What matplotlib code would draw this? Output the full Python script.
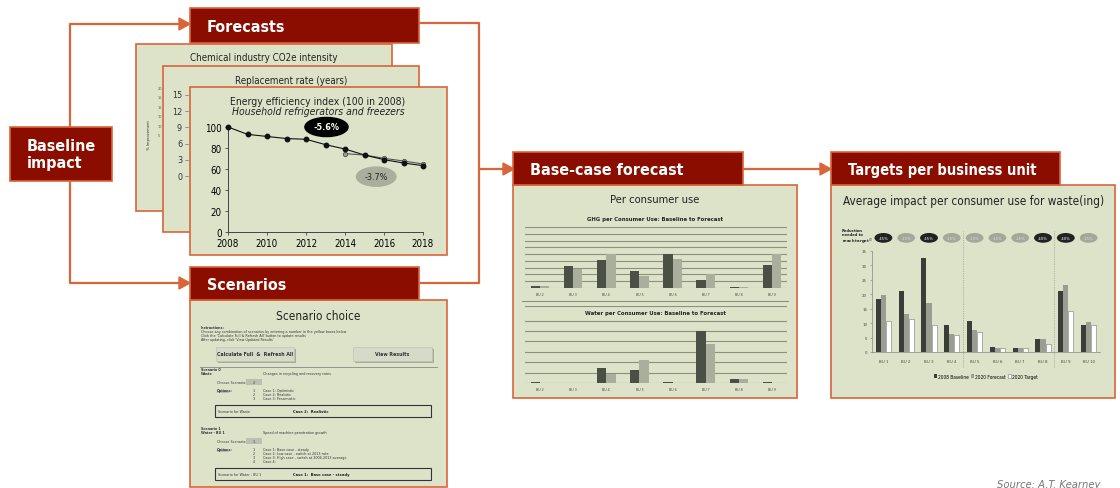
import matplotlib
matplotlib.use("Agg")
import matplotlib.pyplot as plt
from matplotlib.patches import Rectangle, Polygon
import numpy as np

plt.rcParams['font.family'] = ['DejaVu Sans']
plt.rcParams['font.stretch'] = 'condensed'

W, H = 1120, 489

# energy efficiency index (100 in 2008)
years = [2008, 2009, 2010, 2011, 2012, 2013, 2014, 2015, 2016, 2017, 2018]
eff_hist = [100, 93, 91, 89, 88.3, 83.2, 79, 73.3, 68.9, 65.7, 63.2]
years_alt = [2014, 2015, 2016, 2017, 2018]
eff_alt = [74.6, 73.3, 70.2, 67.6, 64.8]
repl_ticks = [15, 12, 9, 6, 3, 0]

# per consumer use (base case forecast)
bu_base = ["BU 2", "BU 3", "BU 4", "BU 5", "BU 6", "BU 7", "BU 8", "BU 9"]
ghg_baseline = [0.35, 3.2, 4.15, 2.5, 5.0, 1.15, 0.15, 3.35]
ghg_forecast = [0.25, 2.75, 5.0, 1.7, 4.35, 2.0, 0.1, 5.0]
water_baseline = [0.06, 0.0, 1.48, 1.23, 0.06, 4.97, 0.42, 0.06]
water_forecast = [0.03, 0.0, 0.87, 2.23, 0.03, 3.71, 0.42, 0.02]

# targets per business unit
bu_target = ["BU 1", "BU 2", "BU 3", "BU 4", "BU 5", "BU 6", "BU 7", "BU 8", "BU 9", "BU 10"]
t_baseline = [18.4, 21.0, 32.6, 9.4, 10.7, 1.6, 1.5, 4.4, 21.0, 9.3]
t_forecast = [19.7, 13.0, 17.1, 6.4, 7.7, 1.3, 1.3, 4.4, 23.3, 10.4]
t_target = [10.9, 11.6, 9.4, 5.9, 7.1, 1.3, 1.3, 2.6, 14.1, 9.4]
reduction = ["-45%", "-15%", "-45%", "-15%", "-15%", "-15%", "-15%", "-40%", "-40%", "-15%"]

RED = "#8b0d00"
ORANGE = "#d8663a"
PANEL = "#dce3c9"
DARK = "#4b5046"
LIGHT = "#a9ae9d"

fig = plt.figure(figsize=(W / 100, H / 100), dpi=100)
bg = fig.add_axes([0, 0, 1, 1])
bg.set_xlim(0, W)
bg.set_ylim(H, 0)
bg.axis("off")


def px_axes(x0, y0, x1, y1):
    ax = fig.add_axes([x0 / W, 1 - y1 / H, (x1 - x0) / W, (y1 - y0) / H])
    ax.patch.set_alpha(0)
    return ax


def box(x0, y0, x1, y1, fc, ec, lw=1.0, z=2):
    bg.add_patch(Rectangle((x0, y0), x1 - x0, y1 - y0, facecolor=fc, edgecolor=ec, lw=lw, zorder=z))


def header(x0, y0, x1, y1, label, size=11.5):
    box(x0, y0, x1, y1, RED, ORANGE, 1.2, 5)
    bg.text(x0 + 17, (y0 + y1) / 2 + 1, label, color="white", fontsize=size, fontweight="bold",
            va="center", ha="left", zorder=6)


def arrow(x_tip, y):
    bg.add_patch(Polygon([[x_tip, y], [x_tip - 11, y - 6], [x_tip - 11, y + 6]], closed=True,
                         color=ORANGE, zorder=4))


# connecting lines
lk = dict(color=ORANGE, lw=1.6, zorder=1, solid_capstyle="butt")
bg.plot([70, 70, 180], [128, 25, 25], **lk)
bg.plot([70, 70, 180], [182, 284, 284], **lk)
bg.plot([419, 479, 479, 419], [24, 24, 284, 284], **lk)
bg.plot([479, 503], [170, 170], **lk)
bg.plot([743, 820], [170, 170], **lk)
arrow(190, 25)
arrow(190, 284)
arrow(514, 170)
arrow(831, 170)

# baseline impact box
box(10, 128, 112, 182, RED, ORANGE, 1.2, 5)
bg.text(27, 155, "Baseline\nimpact", color="white", fontsize=11.5, fontweight="bold",
        va="center", ha="left", linespacing=1.1, zorder=6)

# forecast cards
box(136, 45, 392, 212, PANEL, ORANGE, 1.2, 2)
bg.text(264, 58, "Chemical industry CO2e intensity", fontsize=7, ha="center", va="center", color="#222", zorder=3)
bg.text(149, 135, "% Improvement", fontsize=3, rotation=90, ha="center", va="center", color="#333", zorder=3)
for i, t in enumerate(["20", "15", "15", "10", "10", "5"]):
    bg.text(158, 89 + i * 9.4, t, fontsize=2.8, ha="left", va="center", color="#555", zorder=3)

box(163, 67, 419, 233, PANEL, ORANGE, 1.2, 3)
bg.text(291, 81, "Replacement rate (years)", fontsize=7, ha="center", va="center", color="#222", zorder=4)
for i, t in enumerate(repl_ticks):
    yy = 96 + i * 16.2
    bg.text(182, yy, str(t), fontsize=6.5, ha="right", va="center", color="#333", zorder=4)
    bg.plot([185, 188], [yy, yy], color="#777", lw=0.5, zorder=4)

box(190, 88, 447, 256, PANEL, ORANGE, 1.2, 4)
bg.text(318, 102, "Energy efficiency index (100 in 2008)", fontsize=7.5, ha="center", va="center", color="#222", zorder=5)
bg.text(318, 112, "Household refrigerators and freezers", fontsize=7.5, style="italic", ha="center",
        va="center", color="#222", zorder=5)

ax = px_axes(228, 128, 423, 233)
ax.plot(years_alt, eff_alt, color="#555", lw=0.8, marker="o", ms=3.2, mfc="#9a9a9a", mec="#444", mew=0.5,
        clip_on=False, zorder=3)
ax.plot(years, eff_hist, color="#111", lw=0.8, marker="o", ms=3.2, mfc="#111", mec="#111",
        clip_on=False, zorder=4)
ax.set_xlim(2008, 2018)
ax.set_ylim(0, 100)
ax.set_xticks(range(2008, 2019, 2))
ax.set_yticks(range(0, 101, 20))
for s in ["top", "right"]:
    ax.spines[s].set_visible(False)
for s in ["left", "bottom"]:
    ax.spines[s].set_color("#444")
    ax.spines[s].set_linewidth(0.7)
ax.tick_params(labelsize=7, length=2.5, width=0.6, color="#444", pad=2)
ax.text(2013.05, 100, "-5.6%", fontsize=6.5, color="white", fontweight="bold", ha="center", va="center",
        bbox=dict(boxstyle="ellipse,pad=0.25", fc="black", ec="black"), zorder=6)
ax.text(2015.6, 52.7, "-3.7%", fontsize=6.5, color="#222", ha="center", va="center",
        bbox=dict(boxstyle="ellipse,pad=0.25", fc=LIGHT, ec=LIGHT), zorder=6)

header(190, 9, 419, 44, "Forecasts")

# base-case forecast panel
box(513, 186, 797, 399, PANEL, ORANGE, 1.2, 2)
bg.text(655, 200, "Per consumer use", fontsize=8, ha="center", va="center", color="#222", zorder=3)
bg.text(655, 220, "GHG per Consumer Use: Baseline to Forecast", fontsize=4.2, fontweight="bold",
        ha="center", va="center", color="#222", zorder=3)
bg.plot([522, 788], [302, 302], color="#8c9080", lw=0.8, zorder=3)


def base_chart(y0, y1, base, fc, top):
    a = px_axes(525, y0, 787, y1)
    x = np.arange(len(bu_base))
    a.bar(x - 0.14, base, 0.28, color=DARK, zorder=3)
    a.bar(x + 0.14, fc, 0.28, color=LIGHT, zorder=3)
    a.set_xlim(-0.45, len(bu_base) - 0.55)
    a.set_ylim(0, top)
    a.set_yticks(range(0, int(top) + 1))
    a.yaxis.grid(True, color="#8c9080", lw=0.8, zorder=0)
    a.set_axisbelow(True)
    a.set_xticks(x)
    a.set_xticklabels(bu_base)
    a.tick_params(axis="x", labelsize=2.6, length=0, pad=3, labelcolor="#444")
    a.tick_params(axis="y", left=False, labelleft=False)
    for s in a.spines.values():
        s.set_visible(False)
    return a


base_chart(228, 289, ghg_baseline, ghg_forecast, 9)
wa = base_chart(307, 384, water_baseline, water_forecast, 7.4)
wa.set_yticks([0, 1, 2, 3, 4, 5, 6, 7.4])
bg.text(655, 314, "Water per Consumer Use: Baseline to Forecast", fontsize=4.2, fontweight="bold",
        ha="center", va="center", color="#222", zorder=6,
        bbox=dict(boxstyle="square,pad=0.6", fc=PANEL, ec="none"))
header(513, 153, 743, 186, "Base-case forecast")

# targets per business unit panel
box(831, 186, 1115, 399, PANEL, ORANGE, 1.2, 2)
bg.text(974, 201, "Average impact per consumer use for waste(ing)", fontsize=8.5, ha="center", va="center",
        color="#222", zorder=3)
bg.text(842, 238, "Reduction\nneeded to\nreach target$^{(1)}$", fontsize=3, fontweight="bold",
        ha="left", va="center", color="#222", linespacing=1.0, zorder=3)

ta = px_axes(872, 252, 1100, 353)
x = np.arange(len(bu_target))
ta.bar(x - 0.22, t_baseline, 0.22, color="#3a3d38", label="2008 Baseline", zorder=3)
ta.bar(x, t_forecast, 0.22, color="#9a9e92", label="2020 Forecast", zorder=3)
ta.bar(x + 0.22, t_target, 0.22, color="white", ec="#777", lw=0.4, label="2020 Target", zorder=3)
ta.set_xlim(-0.5, len(bu_target) - 0.5)
ta.set_ylim(0, 35)
ta.set_yticks(range(0, 36, 5))
ta.set_xticks(x)
ta.set_xticklabels(bu_target)
ta.tick_params(labelsize=3.2, length=1.5, width=0.4, color="#777", labelcolor="#444", pad=2)
ta.tick_params(axis="x", length=0, pad=5)
for s in ["top", "right"]:
    ta.spines[s].set_visible(False)
for s in ["left", "bottom"]:
    ta.spines[s].set_color("#888")
    ta.spines[s].set_linewidth(0.5)
tr = ta.get_xaxis_transform()
for xs in [3.5, 7.5]:
    ta.plot([xs, xs], [-0.15, 1.2], transform=tr, color="#888", lw=0.5, ls=(0, (1, 1.5)), clip_on=False)
for i, r in enumerate(reduction):
    dark = r != "-15%"
    ta.text(i, 1.13, r, transform=tr, fontsize=3, ha="center", va="center",
            color="white" if dark else "#ddd",
            bbox=dict(boxstyle="ellipse,pad=0.35", fc="#222" if dark else "#a4a898", ec="none"))
ta.legend(loc="upper center", bbox_to_anchor=(0.5, -0.17), ncol=3, frameon=False, fontsize=3.5,
          handlelength=0.7, handleheight=0.7, columnspacing=0.4, handletextpad=0.2)
header(831, 153, 1060, 186, "Targets per business unit", size=10.5)

# scenarios panel
box(190, 301, 447, 488, PANEL, ORANGE, 1.2, 2)
bg.text(318, 317, "Scenario choice", fontsize=8.5, ha="center", va="center", color="#222", zorder=3)
tk = dict(fontsize=2.7, ha="left", va="center", color="#333", zorder=4)
bg.text(201, 328, "Instructions:", fontweight="bold", **tk)
bg.text(201, 332.5, "Choose any combination of scenarios by entering a number in the yellow boxes below", **tk)
bg.text(201, 336.5, "Click the 'Calculate Full & Refresh All' button to update results", **tk)
bg.text(201, 340.5, "After updating, click 'View Updated Results'", **tk)
for (bx0, bx1, lbl) in [(216, 294, "Calculate Full  &  Refresh All"), (353, 432, "View Results")]:
    box(bx0 + 1.5, 349.5, bx1 + 1.5, 363.5, "#a9ac9c", "none", 0, 3)
    box(bx0, 348, bx1, 362, "#d6dac9", "#c0c3b2", 0.5, 3)
    bg.text((bx0 + bx1) / 2, 355, lbl, fontsize=3.8, fontweight="bold", ha="center", va="center",
            color="#333", zorder=4)
bg.plot([200, 437], [368, 368], color="#888", lw=0.6, zorder=3)


def scenario(y, name, sub, desc, choice, cases, chosen, label):
    bg.text(201, y, name, fontweight="bold", **tk)
    bg.text(201, y + 4, sub, fontweight="bold", **tk)
    bg.text(263, y + 4, desc, **tk)
    bg.text(217, y + 13, "Choose Scenario:", **tk)
    box(246, y + 10, 262, y + 16, "#bcc0ae", "none", 0, 3)
    bg.text(254, y + 13, choice, fontsize=2.7, ha="center", va="center", color="#333", zorder=4)
    bg.text(217, y + 21, "Options:", fontweight="bold", **tk)
    bg.plot([217, 229], [y + 23, y + 23], color="#333", lw=0.3, zorder=4)
    for i, c in enumerate(cases):
        bg.text(254, y + 21 + i * 4, str(i + 1), fontsize=2.7, ha="center", va="center", color="#333", zorder=4)
        bg.text(263, y + 21 + i * 4, c, **tk)
    by = y + 21 + len(cases) * 4 + 3
    box(215, by, 431, by + 12, "none", "#333", 0.8, 4)
    bg.text(218, by + 6, label, **tk)
    bg.text(293, by + 6, chosen, fontsize=3, fontweight="bold", ha="left", va="center", color="#222", zorder=4)


scenario(370, "Scenario 0", "Waste", "Changes in recycling and recovery rates", "2",
         ["Case 1: Optimistic", "Case 2: Realistic", "Case 3: Pessimistic"],
         "Case 2:  Realistic", "Scenario for Waste")
scenario(429, "Scenario 1", "Water - BU 1", "Speed of machine penetration growth", "1",
         ["Case 1: Base case - steady", "Case 2: Low case - switch at 2013 rate",
          "Case 3: High case - switch at 2004-2013 average", "Case 4:"],
         "Case 1:  Base case - steady", "Scenario for Water - BU 1")

header(190, 268, 419, 301, "Scenarios")

bg.text(997, 480, "Source: A.T. Kearney", fontsize=8, style="italic", ha="left", va="top", color="#777")

fig.savefig("out.png", dpi=100)
